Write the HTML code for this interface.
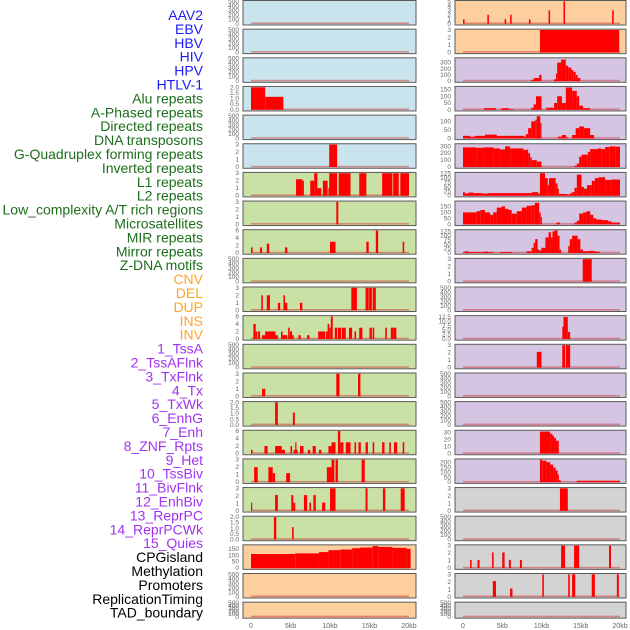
<!DOCTYPE html>
<html><head><meta charset="utf-8">
<style>
html,body{margin:0;padding:0;background:#fff;}
svg{display:block;font-family:"Liberation Sans",sans-serif;}
</style></head>
<body>
<svg id="chart" width="630" height="630" viewBox="0 0 630 630" xmlns="http://www.w3.org/2000/svg"></svg>
<script>
// ---- track labels ----
const trackLabels = ["AAV2","EBV","HBV","HIV","HPV","HTLV-1","Alu repeats","A-Phased repeats","Directed repeats","DNA transposons","G-Quadruplex forming repeats","Inverted repeats","L1 repeats","L2 repeats","Low_complexity A/T rich regions","Microsatellites","MIR repeats","Mirror repeats","Z-DNA motifs","CNV","DEL","DUP","INS","INV","1_TssA","2_TssAFlnk","3_TxFlnk","4_Tx","5_TxWk","6_EnhG","7_Enh","8_ZNF_Rpts","9_Het","10_TssBiv","11_BivFlnk","12_EnhBiv","13_ReprPC","14_ReprPCWk","15_Quies","CPGisland","Methylation","Promoters","ReplicationTiming","TAD_boundary"];
const labelGroups = ["virus","virus","virus","virus","virus","virus","rep","rep","rep","rep","rep","rep","rep","rep","rep","rep","rep","rep","rep","sv","sv","sv","sv","sv","chr","chr","chr","chr","chr","chr","chr","chr","chr","chr","chr","chr","chr","chr","chr","oth","oth","oth","oth","oth"];
const xTickLabels = ["0","5kb","10kb","15kb","20kb"];
const xTickValues = [0,5,10,15,20];

// ---- left column panels: segments [startKb, endKb, value] ----
const L0 = [], L1 = [], L2 = [];
const L3 = [[0,1.8,2],[1.8,4.1,1.15]];
const L4 = [];
const L5 = [[9.9,10.9,3]];
const L6 = [[5.7,6.5,2.2],[6.5,6.7,2],[7.5,8.0,2],[8.0,8.4,3],[8.4,8.9,1],[9.1,9.7,2],[9.8,9.9,1],[9.9,10.9,3],[11.1,12.6,3],[13.7,14.6,3],[16.6,17.9,3],[18.0,18.7,3],[18.9,20,3]];
const L7 = [[10.8,11.05,3]];
const L8 = [[0,0.2,1.5],[1.15,1.4,1.5],[2.0,2.3,2.5],[4.3,4.6,1.5],[10.0,10.7,3],[14.6,14.9,3],[15.8,16.1,6],[19.2,19.4,3]];
const L9 = [];
const L10 = [[1.3,1.5,2],[2.0,2.4,2],[3.4,3.7,1],[4.1,4.3,2],[4.3,4.6,1],[6.2,6.5,1],[12.7,13.4,3],[14.5,14.9,3],[14.95,15.3,3],[15.4,15.8,3]];
const L11 = [[0.3,0.6,4],[0.6,0.8,2],[0.9,1.15,2],[1.4,1.8,1],[1.8,2.4,2],[2.4,3.1,2],[3.1,3.4,1],[3.8,4.0,2],[4.0,4.6,1],[4.7,4.9,3],[4.9,5.2,2],[5.2,5.4,1],[6.0,6.3,1],[7.1,7.4,1],[8.5,9.1,2],[9.1,9.4,2],[9.5,9.7,2],[9.7,9.9,4],[9.9,10.1,3],[10.1,10.35,6],[10.6,10.9,3],[11.0,11.4,3],[11.5,12.0,3],[12.4,12.8,3],[13.1,13.3,2],[13.7,14.1,3],[15.0,15.3,3],[15.4,15.6,3],[17.0,17.2,3],[17.7,18.0,3],[18.0,18.4,3]];
const L12 = [];
const L13 = [[1.4,1.8,1],[10.8,11.2,3],[13.55,13.85,3]];
const L14 = [[3.05,3.4,2],[5.3,5.55,1.1]];
const L15 = [[0,0.2,1],[1.7,2.1,2],[3.05,3.9,2],[3.9,4.3,1],[5.0,5.2,2],[5.4,5.6,1],[5.6,5.75,3],[5.75,5.9,1],[6.2,6.65,2],[7.2,7.5,1],[7.8,8.2,2],[8.6,8.9,1],[9.8,10.2,2],[10.2,10.7,3],[11.0,11.3,6],[11.3,11.7,3],[12.0,12.6,3],[13.1,13.3,3],[13.6,13.9,3],[14.5,14.8,3],[15.4,15.6,3],[16.6,16.9,3],[17.5,17.7,3],[18.1,18.5,3],[19.2,19.4,3]];
const L16 = [[0.4,0.85,2],[2.2,2.75,2],[2.75,3.05,1.2],[4.45,4.95,1.2],[9.6,10.2,2],[10.2,10.55,3],[10.7,11.0,3],[14.0,14.4,3]];
const L17 = [[0,0.1,1.1],[3.05,3.4,2.1],[5.1,5.35,2.1],[5.35,5.6,1.1],[6.7,7.1,2.1],[7.4,7.6,1.1],[7.9,8.2,2.1],[9.0,9.4,1.1],[10.0,10.7,3],[14.5,14.75,3],[16.7,17.0,3],[18.95,19.45,3]];
const L18 = [[2.9,3.2,2],[5.2,5.4,1.1]];
const L19 = [[0,5.6,110],[5.6,8.6,115],[8.6,9.8,125],[9.8,11.3,140],[11.3,12.8,145],[12.8,13.8,155],[13.8,15.4,160],[15.4,16.1,172],[16.1,17.9,165],[17.9,19.7,158],[19.7,20.2,150]];
const L20 = [], L21 = [];

// ---- right column panels ----
const R0 = [[0,0.2,1],[3.1,3.3,2],[5.3,5.5,1],[6.0,6.2,2],[8.4,8.6,1],[10.9,11.1,3],[12.8,13.0,5],[19.0,19.2,3]];
const R1 = [[9.8,19.9,3]];
const R2 = [[8.7,9.0,20],[9.0,9.7,50],[9.7,10.0,100],[11.6,11.85,30],[11.85,12.0,120],[12.0,12.5,300],[12.5,13.1,350],[13.1,13.4,250],[13.4,13.8,220],[13.8,14.05,180],[14.05,14.35,150],[14.35,14.6,100],[14.6,14.95,50]];
const R3 = [[2.7,4.2,12],[4.9,5.8,12],[5.8,6.4,5],[8.7,9.0,15],[9.0,9.3,40],[9.3,10.0,100],[10.6,11.6,15],[11.6,12.0,50],[12.0,12.6,100],[12.6,13.1,50],[13.1,13.9,165],[13.9,14.5,140],[14.5,14.8,100],[14.8,15.3,30],[15.3,16.2,12]];
const R4 = [[0,0.9,15],[0.9,1.5,10],[1.5,2.8,15],[2.8,4.3,22],[4.3,7.8,15],[7.8,8.0,10],[8.0,8.3,25],[8.3,8.7,60],[8.7,9.2,100],[9.2,9.4,110],[9.4,9.85,130],[9.85,10.0,90],[12.1,12.6,10],[12.6,13.1,20],[13.1,13.3,10],[13.9,14.35,20],[14.35,14.8,60],[14.8,15.4,70],[15.4,16.2,60],[16.2,16.7,20]];
const R5 = [[0,1.7,285],[1.7,2.6,280],[2.6,3.9,285],[3.9,4.7,270],[4.7,5.35,255],[5.35,6.0,300],[6.0,7.7,270],[7.7,8.3,250],[8.3,8.55,200],[8.55,8.75,140],[8.75,9.4,100],[9.4,10.0,80],[14.2,14.5,20],[14.5,14.8,50],[14.8,15.1,150],[15.1,15.9,180],[15.9,16.2,220],[16.2,17.2,260],[17.2,17.6,270],[17.6,18.1,260],[18.1,18.7,290],[18.7,19.4,300],[19.4,20,295]];
const R6 = [[0,0.25,20],[0.25,0.7,12],[0.7,1.3,18],[1.3,2.4,15],[2.4,3.2,12],[3.2,8.75,15],[8.75,9.6,20],[9.6,9.8,10],[9.8,10.45,128],[10.45,10.8,100],[10.8,10.95,60],[10.95,11.8,100],[11.8,12.05,70],[12.05,12.2,40],[12.2,13.3,10],[13.3,13.55,5],[13.55,13.85,12],[13.85,14.2,20],[14.2,14.5,45],[14.5,15.1,120],[15.1,15.4,50],[15.4,15.8,40],[15.8,16.4,60],[16.4,16.8,85],[16.8,17.25,100],[17.25,18.1,105],[18.1,18.9,90],[18.9,20,92]];
const R7 = [[0,1.75,100],[1.75,2.2,110],[2.2,2.8,120],[2.8,3.45,100],[3.45,3.85,80],[3.85,4.3,100],[4.3,4.9,140],[4.9,5.35,150],[5.35,5.8,130],[5.8,6.2,120],[6.2,6.85,90],[6.85,7.5,110],[7.5,8.1,140],[8.1,8.75,155],[8.75,9.15,160],[9.15,9.7,180],[9.7,9.9,100],[9.9,10.0,60],[11.9,12.35,15],[14.2,14.5,15],[14.5,14.8,30],[14.8,15.3,90],[15.3,15.75,100],[15.75,16.2,110],[16.2,16.6,80],[16.6,17.0,50],[17.0,17.7,40],[17.7,18.5,35],[18.5,18.9,25],[18.9,20,15]];
const R8 = [[0,0.25,5],[0.25,0.7,10],[0.7,2.6,5],[2.6,3.2,8],[3.2,3.9,5],[4.7,6.3,5],[8.1,8.75,10],[8.75,9.0,30],[9.0,9.2,60],[9.2,9.5,80],[9.5,9.7,20],[9.7,10.0,15],[10.0,10.5,30],[10.5,10.9,90],[10.9,11.2,120],[11.2,11.4,90],[11.4,11.65,125],[11.65,12.05,130],[12.05,12.3,100],[12.3,12.5,20],[13.4,13.6,40],[13.6,13.9,80],[13.9,14.6,100],[14.6,14.95,80],[14.95,15.3,20],[15.3,16.0,10],[16.0,16.8,12],[16.8,17.4,8]];
const R9 = [[15.25,16.4,3]];
const R10 = [];
const R11 = [[12.65,12.8,7],[12.8,13.35,12.5],[13.35,13.65,4]];
const R12 = [[9.4,10.0,2.1],[12.65,13.0,3],[13.1,13.65,3]];
const R13 = [], R14 = [];
const R15 = [[9.8,11.1,31],[11.1,11.4,28],[11.4,11.6,25],[11.6,11.85,22],[11.85,12.2,18]];
const R16 = [[9.8,10.1,230],[10.1,10.65,220],[10.65,11.1,205],[11.1,11.5,180],[11.5,11.8,150],[11.8,12.05,120],[12.05,12.2,80],[12.2,12.45,20],[14.5,20,15]];
const R17 = [[12.35,13.35,3]];
const R18 = [];
const R19 = [[0.9,1.1,1.1],[1.85,2.1,1.1],[3.7,3.9,2.1],[5.0,5.3,2.1],[5.85,6.1,1.1],[7.25,7.5,1.1],[12.5,13.0,3],[14.15,14.8,3],[18.6,18.85,3]];
const R20 = [[3.8,4.2,2.1],[6.0,6.3,1.1],[10.1,10.3,3],[13.4,13.6,3],[13.9,14.3,3],[16.4,16.8,3],[19.6,19.85,3]];
const R21 = [];

const leftSegs = [L0,L1,L2,L3,L4,L5,L6,L7,L8,L9,L10,L11,L12,L13,L14,L15,L16,L17,L18,L19,L20,L21];
const rightSegs = [R0,R1,R2,R3,R4,R5,R6,R7,R8,R9,R10,R11,R12,R13,R14,R15,R16,R17,R18,R19,R20,R21];

// y-axis maxima and tick labels per panel
const leftYMax = [500,500,500,2,500,3,3,3,6,500,3,6,500,3,2,6,3,3,2,175,500,500];
const rightYMax = [5,3,365,167,132,326,128,188,130,3,500,12.8,3,500,500,31.7,230,3,500,3,3,500];
const ticks500 = ["0","100","200","300","400","500"];
const ticks3 = ["0","1","2","3"];
const ticks6 = ["0","2","4","6"];
const ticks2 = ["0.0","0.5","1.0","1.5","2.0"];
const leftTicks = [ticks500,ticks500,ticks500,ticks2,ticks500,ticks3,ticks3,ticks3,ticks6,ticks500,ticks3,ticks6,ticks500,ticks3,ticks2,ticks6,ticks3,ticks3,ticks2,["0","50","100","150"],ticks500,ticks500];
const rightTicks = [["0","1","2","3","4","5"],ticks3,["0","100","200","300"],["0","50","100","150"],["0","50","100"],["0","100","200","300"],["0","25","50","75","100","125"],["0","50","100","150"],["0","25","50","75","100","125"],ticks3,ticks500,["0.0","2.5","5.0","7.5","10.0","12.5"],ticks3,ticks500,ticks500,["0","10","20","30"],["0","50","100","150","200"],ticks3,ticks500,ticks3,ticks3,ticks500];

const leftBg = ["#c9e4ec","#c9e4ec","#c9e4ec","#c9e4ec","#c9e4ec","#c9e4ec","#c9e1a5","#c9e1a5","#c9e1a5","#c9e1a5","#c9e1a5","#c9e1a5","#c9e1a5","#c9e1a5","#c9e1a5","#c9e1a5","#c9e1a5","#c9e1a5","#c9e1a5","#fecf9e","#fecf9e","#fecf9e"];
const rightBg = ["#fecf9e","#fecf9e","#d5c5e2","#d5c5e2","#d5c5e2","#d5c5e2","#d5c5e2","#d5c5e2","#d5c5e2","#d5c5e2","#d5c5e2","#d5c5e2","#d5c5e2","#d5c5e2","#d5c5e2","#d5c5e2","#d5c5e2","#d3d3d3","#d3d3d3","#d3d3d3","#d3d3d3","#d3d3d3"];

const NS = "http://www.w3.org/2000/svg";
const svg = document.getElementById("chart");
function mk(tag, attrs, parent){const e=document.createElementNS(NS,tag);for(const k in attrs)e.setAttribute(k,attrs[k]);(parent||svg).appendChild(e);return e;}

const groupColor = {virus:"#1b1bf5",rep:"#1d6e1d",sv:"#ffa526",chr:"#a033f0",oth:"#000000"};
// labels
trackLabels.forEach((t,i)=>{
  const el = mk("text",{x:203,y:20+13.9*i,"text-anchor":"end","font-size":"14",fill:groupColor[labelGroups[i]]});
  el.textContent = t;
  
  
});

const rowPitch = 28.65;
function panelTop(i){return 0.5+rowPitch*i;}
function panelH(i){return i===21?16:24.5;}

function drawColumn(segs, yMaxes, tickSets, bgs, px0, px1, kb0x, kb20x, side){
  const xScale = kb => kb0x + (kb20x-kb0x)*kb/20;
  segs.forEach((data,i)=>{
    const top = panelTop(i), h = panelH(i);
    const g = mk("g",{});
    
    
    const bg = mk("rect",{x:px0,y:top,width:px1-px0,height:h,fill:bgs[i]},g);
    
    
    const y0 = top+h-1.2, y1 = top+0.8;
    const yMax = yMaxes[i];
    const yScale = v => y0 - (y0-y1)*v/yMax;
    // baseline
    const bl = mk("rect",{x:xScale(0),y:y0-1.3,width:xScale(20)-xScale(0),height:1.6,fill:"rgba(205,70,70,0.55)"},g);
    
    
    data.forEach(s=>{
      const xa = Math.max(xScale(s[0]),px0+1), xb = Math.min(xScale(s[1]),px1-1);
      const yt = Math.max(yScale(s[2]),top+0.5);
      const r = mk("rect",{x:xa,y:yt,width:Math.max(xb-xa,1.2),height:y0-yt,fill:"#ff0000"},g);
      
      
    });
    mk("rect",{x:px0,y:top,width:px1-px0,height:h,fill:"none",stroke:"#5a5a5a","stroke-width":"1"},g);
    // y ticks
    const tk = tickSets[i];
    tk.forEach(t=>{
      const v = parseFloat(t);
      const ty = yScale(v);
      const tl = mk("text",{x:px0-4,y:ty+2,"text-anchor":"end","font-size":"6.5",fill:"#666"},g);
      tl.textContent = t;
      
      
    });
  });
  xTickValues.forEach((v,j)=>{
    const t = mk("text",{x:xScale(v),y:628,"text-anchor":"middle","font-size":"7",fill:"#666"});
    t.textContent = xTickLabels[j];
    
    
  });
}
drawColumn(leftSegs, leftYMax, leftTicks, leftBg, 243, 416, 251, 409, 'left');
drawColumn(rightSegs, rightYMax, rightTicks, rightBg, 455, 626, 463, 620, 'right');
</script>
</body></html>
